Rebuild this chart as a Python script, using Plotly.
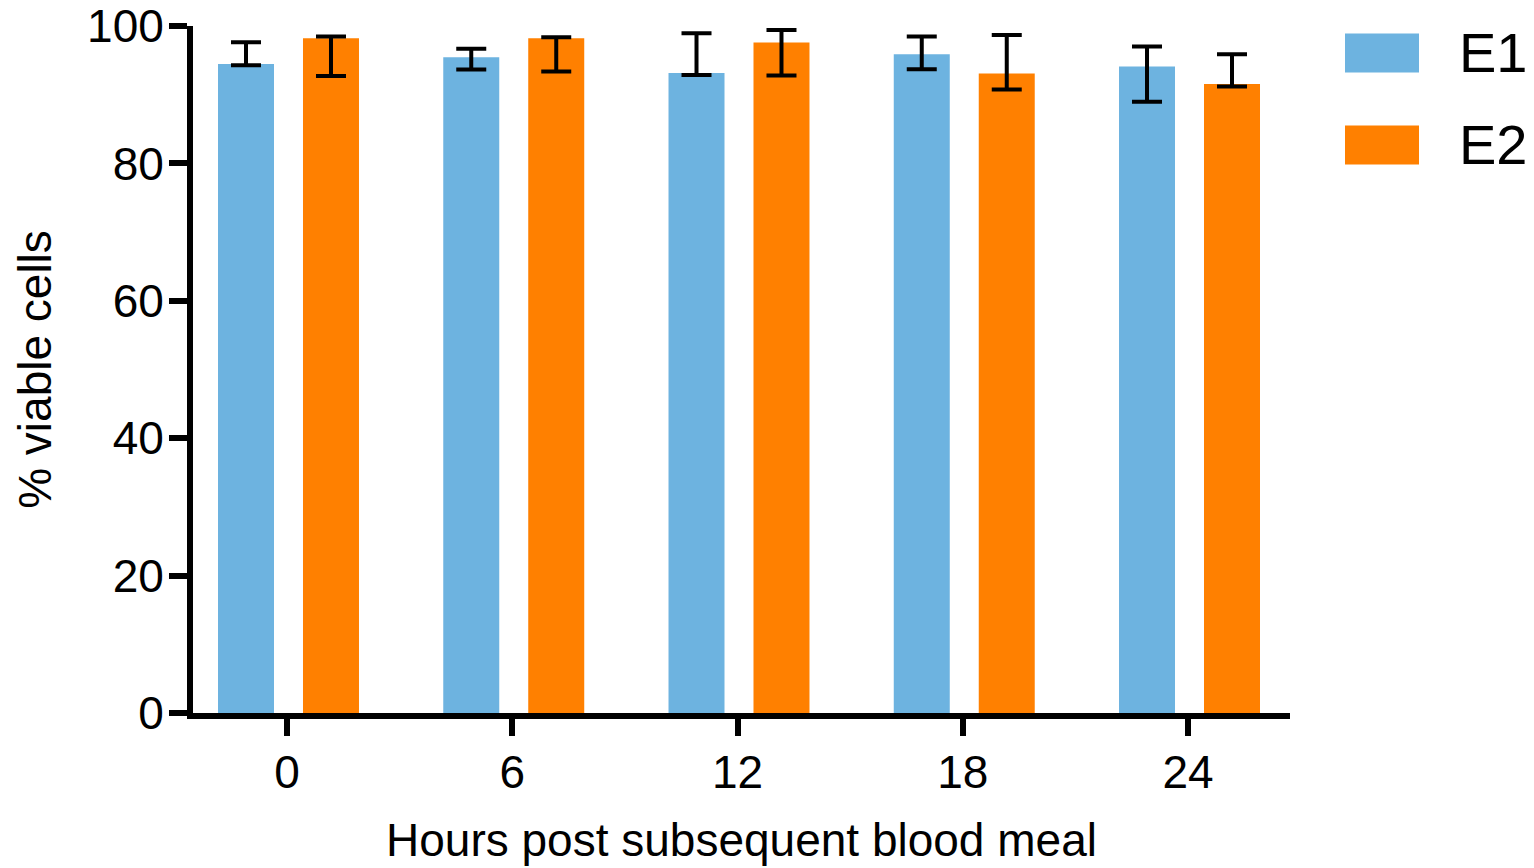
import plotly.graph_objects as go

categories = ["0", "6", "12", "18", "24"]
e1_mean = [94.47, 95.44, 93.16, 95.87, 94.10]
e1_upper = [97.65, 96.70, 98.96, 98.48, 97.00]
e1_lower = [94.28, 93.66, 92.88, 93.70, 88.96]
e2_mean = [98.23, 98.23, 97.60, 93.10, 91.57]
e2_upper = [98.48, 98.38, 99.40, 98.70, 95.90]
e2_lower = [92.73, 93.38, 92.80, 90.76, 91.20]

yticks = [0, 20, 40, 60, 80, 100]

BLUE = "#6DB3E0"
ORANGE = "#FF8000"
FONT = "Liberation Sans, Arial, Helvetica, sans-serif"

def plus(m, u):
    return [a - b for a, b in zip(u, m)]

def minus(m, l):
    return [b - a for a, b in zip(l, m)]

BAR_W = 0.2486
fig = go.Figure()
fig.add_trace(go.Bar(
    name="E1", x=categories, y=e1_mean, marker=dict(color=BLUE, line=dict(width=0)),
    width=BAR_W, offset=-0.3063,
    error_y=dict(type="data", symmetric=False, array=plus(e1_mean, e1_upper),
                 arrayminus=minus(e1_mean, e1_lower), color="black", thickness=4, width=15),
    showlegend=False,
))
fig.add_trace(go.Bar(
    name="E2", x=categories, y=e2_mean, marker=dict(color=ORANGE, line=dict(width=0)),
    width=BAR_W, offset=0.0710,
    error_y=dict(type="data", symmetric=False, array=plus(e2_mean, e2_upper),
                 arrayminus=minus(e2_mean, e2_lower), color="black", thickness=4, width=15),
    showlegend=False,
))

fig.update_layout(
    width=1534, height=868,
    margin=dict(l=193, r=244, t=25.5, b=155, pad=0, autoexpand=False),
    paper_bgcolor="white", plot_bgcolor="white",
    barmode="overlay",
    font=dict(family=FONT, size=46, color="black"),
)
fig.update_xaxes(
    type="category", range=[-0.4173, 4.4528], automargin=False,
    showline=True, linewidth=6, linecolor="black", mirror=False,
    ticks="outside", ticklen=17, tickwidth=6, tickcolor="black",
    showgrid=False, zeroline=False, ticklabelstandoff=-3,
    tickfont=dict(size=46, family=FONT),
    title=dict(text="Hours post subsequent blood meal", font=dict(size=46, family=FONT), standoff=29),
)
fig.update_yaxes(
    range=[0, 100], tickvals=yticks, ticktext=[str(v) for v in yticks], automargin=False,
    showline=True, linewidth=6, linecolor="black",
    ticks="outside", ticklen=18, tickwidth=6, tickcolor="black",
    showgrid=False, zeroline=False, ticklabelstandoff=-4,
    tickfont=dict(size=46, family=FONT),
    title=dict(text="% viable cells", font=dict(size=46, family=FONT), standoff=23),
)

# custom legend (large swatches as in the reference)
legend_items = [("E1", BLUE, 33, 72), ("E2", ORANGE, 125, 164)]
plot_top, plot_h = 25.5, 868 - 155 - 25.5
def ypaper(px):
    return (plot_top + plot_h - px) / plot_h
plot_left, plot_w = 193, 1534 - 193 - 244
def xpaper(px):
    return (px - plot_left) / plot_w
for name, col, top, bot in legend_items:
    fig.add_shape(type="rect", xref="paper", yref="paper", x0=xpaper(1345), x1=xpaper(1419),
                  y0=ypaper(bot), y1=ypaper(top), fillcolor=col, line=dict(width=0))
    fig.add_annotation(xref="paper", yref="paper", x=xpaper(1457), y=ypaper((top + bot) / 2),
                       text=name, showarrow=False, xanchor="left", yanchor="middle",
                       font=dict(size=56, family=FONT, color="black"))

fig.write_html("out.html")
